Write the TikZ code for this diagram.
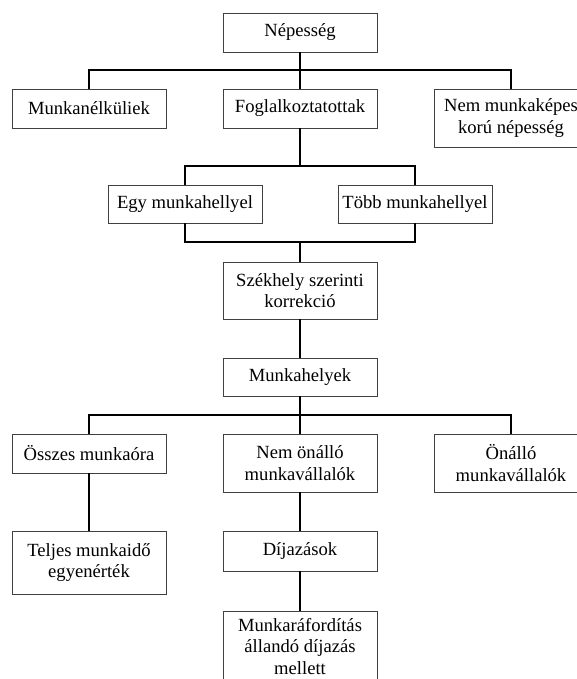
\documentclass[tikz,border=0pt]{standalone}
\usepackage{fontspec}
\setmainfont{Liberation Serif}
\usepackage{tikz}

\tikzset{
	box/.style={draw=black!75, line width=0.9pt, fill=white, inner sep=0pt,
		minimum width=154pt, minimum height=39pt, align=center,
		font=\fontsize{18.6}{21.5}\selectfont},
	tallbox/.style={box, minimum height=58pt},
	link/.style={draw=black, line width=1.6pt}
}

\begin{document}
\begin{tikzpicture}[x=1pt,y=-1pt]
		\useasboundingbox (0,0) rectangle (577,679);
		
		% first level
		\node[box] (nep) at (300,32.5) {Népesség};
		\node[box] (mun) at (89,108.5) {Munkanélküliek};
		\node[box] (fog) at (300,108.5) {Foglalkoztatottak};
		\node[tallbox] (nmk) at (511,118) {Nem munkaképes\\korú népesség};
		
		\node[box, minimum height=38pt] (egy) at (185,204) {Egy munkahellyel};
		\node[box, minimum height=38pt] (tob) at (415,204) {Több munkahellyel};
		\node[tallbox, minimum height=57pt] (szk) at (300,290.5) {Székhely szerinti\\korrekció};
		\node[box, minimum height=38pt] (mhk) at (300,377) {Munkahelyek};
		
		% second level
		\node[box] (ossz) at (89,453.5) {Összes munkaóra};
		\node[tallbox] (nonall) at (300,463) {Nem önálló\\munkavállalók};
		\node[tallbox] (onall) at (511,463) {Önálló\\munkavállalók};
		\node[box, minimum height=63pt] (telj) at (89,562.5) {Teljes munkaidő\\egyenérték};
		\node[box, minimum height=40pt] (dij) at (300,551) {Díjazások};
		\node[box, minimum height=76pt, text depth=6pt] (mrf) at (300,649) {Munkaráfordítás\\állandó díjazás\\mellett};
		
		\coordinate (b1) at (300,70);
		\coordinate (b2) at (300,166);
		\coordinate (b3) at (300,242);
		\coordinate (b4) at (300,415);
		
		\draw[link] (nep.south) -- (b1) -- (fog.north);
		\draw[link] (b1) -| (mun.north);
		\draw[link] (b1) -| (nmk.north);
		
		\draw[link] (fog.south) -- (b2) -| (egy.north);
		\draw[link] (b2) -| (tob.north);
		\draw[link] (egy.south) |- (b3) -- (szk.north);
		\draw[link] (tob.south) |- (b3);
		
		\draw[link] (szk.south) -- (mhk.north);
		\draw[link] (mhk.south) -- (b4) -- (nonall.north);
		\draw[link] (b4) -| (ossz.north);
		\draw[link] (b4) -| (onall.north);
		
		\draw[link] (ossz.south) -- (telj.north);
		\draw[link] (nonall.south) -- (dij.north);
		\draw[link] (dij.south) -- (mrf.north);
	\end{tikzpicture}
\end{document}
